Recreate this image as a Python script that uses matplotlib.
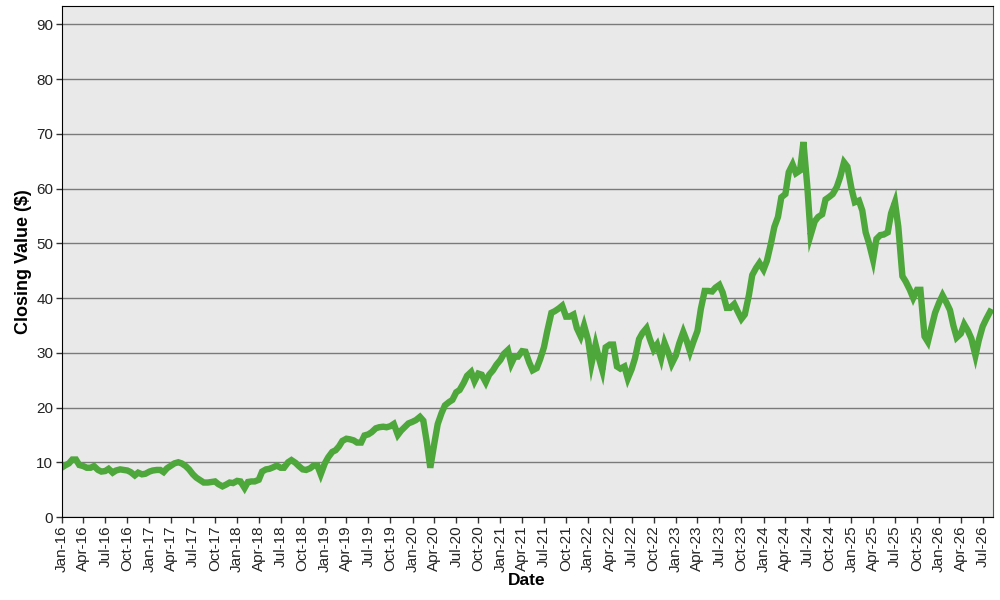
import matplotlib
matplotlib.use("Agg")
import matplotlib.dates as mdates
import matplotlib.pyplot as plt
import pandas as pd

# semi-monthly closes (1st / 15th)
START = "2016-01-01"
CLOSE = [
    9.0, 9.4, 9.8, 10.5, 10.5, 9.5, 9.3, 9.0, 9.0, 9.3,
    8.6, 8.3, 8.4, 8.8, 8.1, 8.5, 8.7, 8.6, 8.5, 8.2,
    7.6, 8.1, 7.8, 7.9, 8.3, 8.5, 8.6, 8.6, 8.2, 8.9,
    9.4, 9.8, 10.0, 9.8, 9.3, 8.7, 7.8, 7.2, 6.7, 6.3,
    6.3, 6.4, 6.5, 6.0, 5.6, 5.9, 6.3, 6.2, 6.6, 6.5,
    5.3, 6.4, 6.5, 6.5, 6.8, 8.3, 8.7, 8.8, 9.1, 9.4,
    9.0, 9.0, 10.0, 10.4, 9.9, 9.3, 8.7, 8.6, 8.9, 9.4,
    9.4, 7.8, 9.8, 10.9, 11.9, 12.2, 12.9, 13.9, 14.3, 14.2,
    14.0, 13.6, 13.6, 14.9, 15.1, 15.5, 16.2, 16.4, 16.5, 16.4,
    16.6, 17.0, 15.0, 15.8, 16.5, 17.1, 17.4, 17.7, 18.3, 17.6,
    13.5, 9.0, 13.5, 17.0, 19.0, 20.4, 21.0, 21.4, 22.8, 23.2,
    24.5, 25.8, 26.5, 24.8, 26.2, 26.0, 24.6, 26.0, 26.8, 27.8,
    28.7, 29.8, 30.5, 28.0, 29.3, 29.3, 30.3, 30.2, 28.2, 26.8,
    27.2, 28.8, 31.0, 34.0, 37.3, 37.6, 38.1, 38.6, 36.6, 36.6,
    37.0, 34.5, 33.0, 35.0, 32.3, 28.0, 31.5, 29.0, 26.8, 31.0,
    31.5, 31.5, 27.5, 27.1, 27.5, 25.3, 27.0, 29.0, 32.5, 33.6,
    34.5, 32.5, 30.6, 31.5, 29.0, 31.8, 30.0, 28.0, 29.5, 31.7,
    33.8, 32.2, 30.2, 32.0, 34.0, 38.0, 41.3, 41.3, 41.2, 41.9,
    42.4, 41.0, 38.2, 38.2, 38.9, 37.6, 36.2, 37.0, 40.5, 44.2,
    45.5, 46.4, 45.2, 46.8, 50.0, 53.0, 54.8, 58.4, 59.0, 63.0,
    64.4, 62.8, 63.3, 68.5, 60.5, 51.5, 54.0, 54.8, 55.3, 58.0,
    58.5, 59.0, 60.3, 62.1, 64.8, 64.0, 60.0, 57.5, 57.8, 56.0,
    52.0, 50.0, 47.0, 50.8, 51.5, 51.6, 52.0, 55.5, 57.5, 53.0,
    44.0, 43.0, 41.5, 40.0, 41.5, 41.5, 33.0, 32.0, 34.8, 37.3,
    39.2, 40.5, 39.1, 37.8, 35.0, 32.8, 33.5, 35.2, 34.0, 32.6,
    29.5, 32.3, 34.8, 36.1, 37.5,
]
DATES = pd.date_range(START, periods=len(CLOSE), freq="SMS")

X_LIMITS = (pd.Timestamp("2016-01-01"), pd.Timestamp("2026-08-11"))
Y_LIMITS = (0, 93.35)
Y_TICKS = list(range(0, 100, 10))

LINE_COLOR = "#4EA73B"
PANEL_BG = "#E9E9E9"
GRID_COLOR = "#7A7A7A"

plt.rcParams["font.family"] = ["Liberation Sans", "DejaVu Sans"]

fig = plt.figure(figsize=(10, 6), dpi=100)
ax = fig.add_axes([0.0615, 0.1383, 0.931, 0.8517])
ax.set_facecolor(PANEL_BG)

ax.plot(DATES, CLOSE, color=LINE_COLOR, linewidth=4.6, solid_joinstyle="miter")

ax.set_xlim(*X_LIMITS)
ax.set_ylim(*Y_LIMITS)
ax.set_yticks(Y_TICKS)
ax.yaxis.grid(True, color=GRID_COLOR, linewidth=1.0)
ax.set_axisbelow(True)

ax.xaxis.set_major_locator(mdates.MonthLocator(bymonth=[1, 4, 7, 10]))
ax.xaxis.set_major_formatter(mdates.DateFormatter("%b-%y"))
for lbl in ax.get_xticklabels():
    lbl.set_rotation(90)

ax.tick_params(axis="both", labelsize=11, length=4, width=1, color="#333333",
               labelcolor="#222222", pad=2)

for side in ("left", "bottom", "top"):
    ax.spines[side].set_color("black")
ax.spines["right"].set_color("#555555")

ax.set_xlabel("Date", fontsize=12.5, fontweight="bold", labelpad=1)
ax.set_ylabel("Closing Value ($)", fontsize=13, fontweight="bold", labelpad=3)

fig.savefig("out.png", dpi=100, facecolor="white")
